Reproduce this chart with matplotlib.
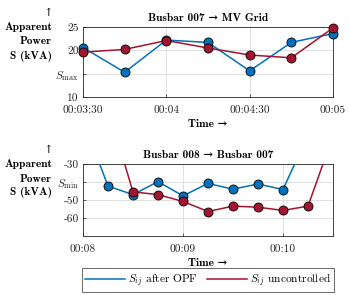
import matplotlib
matplotlib.use("Agg")
import matplotlib.pyplot as plt

plt.rcParams['font.family'] = ['cmr10', 'DejaVu Serif']
plt.rcParams['mathtext.fontset'] = 'cm'
plt.rcParams['axes.formatter.use_mathtext'] = True

# top panel: Busbar 007 -> MV Grid
top_times = ["00:03:30", "00:03:45", "00:04:00", "00:04:15", "00:04:30", "00:04:45", "00:05:00"]
top_opf = [20.6, 15.3, 22.2, 21.7, 15.6, 21.7, 23.6]
top_unctrl = [19.6, 20.2, 22.1, 20.5, 19.0, 18.4, 24.8]
top_ticks = ["00:03:30", "00:04:00", "00:04:30", "00:05:00"]
top_ticklabels = ["00:03:30", "00:04", "00:04:30", "00:05"]
top_yticks = [10, 15, 20, 25]
top_yticklabels = ["10", r"$S_{\max}$", "20", "25"]

# bottom panel: Busbar 008 -> Busbar 007
bot_times_opf = ["00:08:00", "00:08:15", "00:08:30", "00:08:45", "00:09:00", "00:09:15",
                 "00:09:30", "00:09:45", "00:10:00", "00:10:15"]
bot_opf = [-5.4, -42.3, -47.0, -39.8, -47.7, -40.8, -44.0, -41.1, -44.2, -13.8]
bot_times_unctrl = ["00:08:15", "00:08:30", "00:08:45", "00:09:00", "00:09:15", "00:09:30",
                    "00:09:45", "00:10:00", "00:10:15", "00:10:30"]
bot_unctrl = [1.0, -45.5, -47.0, -50.8, -56.4, -53.4, -54.0, -55.8, -53.4, -14.4]
bot_ticks = ["00:08:00", "00:09:00", "00:10:00"]
bot_ticklabels = ["00:08", "00:09", "00:10"]
bot_yticks = [-60, -50, -40, -30]
bot_yticklabels = ["-60", "-50", r"$S_{\min}$", "-30"]

BLUE = "#0072BD"
RED = "#A2142F"
BOLD = ['cmb10', 'DejaVu Serif']
FS = 8.2


def secs(t):
    h, m, s = (int(v) for v in t.split(":"))
    return h * 3600 + m * 60 + s


def style(ax, xticks, xlabels, yticks, ylabels, xlim, ylim, title):
    ax.set_xlim(secs(xlim[0]), secs(xlim[1]))
    ax.set_ylim(*ylim)
    ax.set_xticks([secs(t) for t in xticks])
    ax.set_xticklabels(xlabels)
    ax.set_yticks(yticks)
    ax.set_yticklabels(ylabels)
    ax.tick_params(labelsize=FS, direction='in', length=2, width=0.5, colors='#262626', pad=3)
    ax.tick_params(axis='x', pad=6)
    ax.grid(True, color='#dcdcdc', lw=0.6)
    ax.set_axisbelow(True)
    for sp in ax.spines.values():
        sp.set_linewidth(0.6)
        sp.set_color('#262626')
    ax.set_title(title, fontsize=FS, family=BOLD, fontweight='bold', pad=4)
    ax.set_xlabel("Time →", fontsize=FS, family=BOLD, fontweight='bold', labelpad=3)


def plot(ax, times, vals, color, clip=True):
    line, = ax.plot([secs(t) for t in times], vals, color=color, lw=1.1, marker='o', ms=6.5,
                    mec='black', mew=0.6, mfc=color, clip_on=clip, zorder=3)
    return line


fig = plt.figure(figsize=(3.5, 2.95), dpi=100)
ax1 = fig.add_axes([83 / 350, 1 - 97 / 295, 250 / 350, 70 / 295])
ax2 = fig.add_axes([83 / 350, 1 - 236 / 295, 250 / 350, 72 / 295])

plot(ax1, top_times, top_opf, BLUE, clip=False)
plot(ax1, top_times, top_unctrl, RED, clip=False)
style(ax1, top_ticks, top_ticklabels, top_yticks, top_yticklabels,
      ("00:03:30", "00:05:00"), (10, 25), "Busbar 007 → MV Grid")

l1 = plot(ax2, bot_times_opf, bot_opf, BLUE)
l2 = plot(ax2, bot_times_unctrl, bot_unctrl, RED)
style(ax2, bot_ticks, bot_ticklabels, bot_yticks, bot_yticklabels,
      ("00:08:00", "00:10:30"), (-70, -30), "Busbar 008 → Busbar 007")

# y labels
for arrow_y, first_y in [(13, 27), (150, 164)]:
    fig.text(48 / 350, 1 - arrow_y / 295, "↑", ha='center', va='center', fontsize=FS,
             family=['DejaVu Serif'])
    for i, s in enumerate(["Apparent", "Power", "S (kVA)"]):
        fig.text(52 / 350, 1 - (first_y + i * 14.5) / 295, s, ha='right', va='center',
                 fontsize=FS, family=BOLD, fontweight='bold')

leg = fig.legend([l1, l2], [r"$S_{ij}$ after OPF", r"$S_{ij}$ uncontrolled"],
                 loc='center', bbox_to_anchor=(208 / 350, 1 - 280 / 295), ncol=2,
                 fontsize=FS, frameon=True, fancybox=False, edgecolor='#262626',
                 handlelength=3.5, columnspacing=0.8, handletextpad=0.25, borderpad=0.3,
                 borderaxespad=0)
leg.get_frame().set_linewidth(0.6)
for h in leg.legend_handles:
    h.set_marker('')

fig.savefig("out.png", dpi=100)
